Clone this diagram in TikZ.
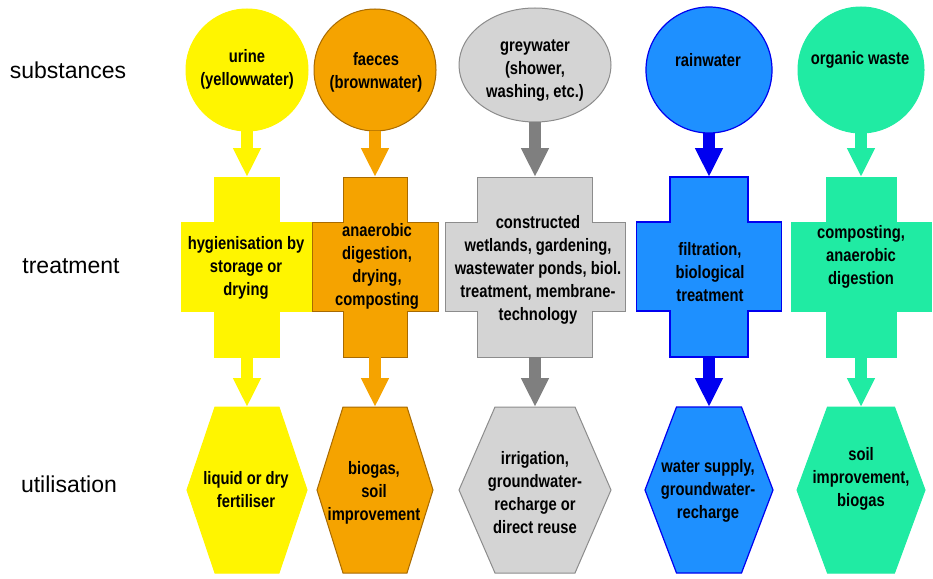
\documentclass[tikz,border=0pt]{standalone}
\usepackage{fontspec}
\setmainfont{Liberation Sans}
\newfontfamily\boxfont[FakeStretch=0.82]{Liberation Sans}
\usetikzlibrary{arrows.meta,shapes.geometric}

\definecolor{yel}{HTML}{FFF500}
\definecolor{ora}{HTML}{F5A300}
\definecolor{oraD}{HTML}{A86A00}
\definecolor{gry}{HTML}{D4D4D4}
\definecolor{gryD}{HTML}{8C8C8C}
\definecolor{gryA}{HTML}{7F7F7F}
\definecolor{blu}{HTML}{1E90FF}
\definecolor{bluD}{HTML}{0000F0}
\definecolor{grn}{HTML}{20EBA3}

\newcommand\crossshape[5]{% name, x, half vertical-bar width, half horizontal-bar width, style
  \node[frame, minimum width=2*#4pt, minimum height=180pt] (#1) at (#2,267) {};
  \path[#5] ({#2-#3},177) -- ({#2+#3},177) -- ({#2+#3},222) -- ({#2+#4},222)
    -- ({#2+#4},311) -- ({#2+#3},311) -- ({#2+#3},357) -- ({#2-#3},357)
    -- ({#2-#3},311) -- ({#2-#4},311) -- ({#2-#4},222) -- ({#2-#3},222) -- cycle;}
\newcommand\hexshape[5]{% name, x, half top edge, half width, style
  \node[frame, minimum width=2*#4pt, minimum height=166pt] (#1) at (#2,490) {};
  \path[#5] ({#2-#3},407) -- ({#2+#3},407) -- ({#2+#4},490) -- ({#2+#3},573)
    -- ({#2-#3},573) -- ({#2-#4},490) -- cycle;}

\begin{document}
\begin{tikzpicture}[x=1pt,y=-1pt,
  frame/.style={rectangle, inner sep=0, outer sep=0, draw=none},
  txt/.style={font=\boxfont\bfseries\fontsize{18}{23}\selectfont, align=center, inner sep=0, text=black},
  rowlabel/.style={font=\fontsize{23}{26}\selectfont, inner sep=0, anchor=base},
  conn/.style={line width=12pt, -{Triangle[width=26pt,length=29pt]}},
  ystyle/.style={fill=yel, draw=yel, line width=1pt},
  ostyle/.style={fill=ora, draw=oraD, line width=1pt},
  gstyle/.style={fill=gry, draw=gryD, line width=1pt},
  bstyle/.style={fill=blu, draw=bluD, line width=1.2pt},
  grstyle/.style={fill=grn, draw=grn, line width=1pt},
  subst/.style={circle, inner sep=0, outer sep=0}
]
\useasboundingbox[fill=white] (0,0) rectangle (933,578);

% row labels
\node[rowlabel] (rsub) at (68,78) {substances};
\node[rowlabel] (rtre) at (71,273) {treatment};
\node[rowlabel] (ruti) at (69,492) {utilisation};

% substances
\node[subst, ystyle, minimum size=122pt] (s1) at (247,70) {};
\node[subst, ostyle, minimum size=122pt] (s2) at (375,70) {};
\node[ellipse, inner sep=0, outer sep=0, gstyle, minimum width=152pt, minimum height=114pt] (s3) at (535,65) {};
\node[subst, bstyle, minimum size=126pt] (s4) at (709,70) {};
\node[subst, grstyle, minimum size=126pt] (s5) at (861,70) {};

% treatment crosses
\crossshape{t1}{247}{32.5}{66}{ystyle}
\crossshape{t2}{375}{32}{63}{ostyle}
\crossshape{t3}{535}{57.5}{90}{gstyle}
\crossshape{t4}{709}{39}{72.5}{bstyle}
\crossshape{t5}{861}{35}{70}{grstyle}

% utilisation hexagons
\hexshape{h1}{247}{32}{60}{ystyle}
\hexshape{h2}{375}{32}{58}{ostyle}
\hexshape{h3}{535}{40}{76}{gstyle}
\hexshape{h4}{709}{32.5}{64}{bstyle}
\hexshape{h5}{861}{33.5}{64}{grstyle}

% texts
\node[txt] (s1l) at (247,69) {urine\\(yellowwater)};
\node[txt] (s2l) at (376,72) {faeces\\(brownwater)};
\node[txt] (s3l) at (535,71) {greywater\\(shower,\\washing, etc.)};
\node[txt] (s4l) at (708,60) {rainwater};
\node[txt] (s5l) at (860,60) {organic waste};

\node[txt] (t1l) at (246,268) {hygienisation by\\storage or\\drying};
\node[txt] (t2l) at (377,266) {anaerobic\\digestion,\\drying,\\composting};
\node[txt] (t3l) at (538,270) {constructed\\wetlands, gardening,\\wastewater ponds, biol.\\treatment, membrane-\\technology};
\node[txt] (t4l) at (710,272) {filtration,\\biological\\treatment};
\node[txt] (t5l) at (861,257) {composting,\\anaerobic\\digestion};

\node[txt] (h1l) at (246,490) {liquid or dry\\fertiliser};
\node[txt] (h2l) at (374,493) {biogas,\\soil\\improvement};
\node[txt] (h3l) at (535,493) {irrigation,\\groundwater-\\recharge or\\direct reuse};
\node[txt] (h4l) at (708,491) {water supply,\\groundwater-\\recharge};
\node[txt] (h5l) at (861,479) {soil\\improvement,\\biogas};

% connectors
\draw[conn, draw=yel, fill=yel] (s1) -- (t1);
\draw[conn, draw=yel, fill=yel] (t1) -- (h1);
\draw[conn, draw=ora, fill=ora] (s2) -- (t2);
\draw[conn, draw=ora, fill=ora] (t2) -- (h2);
\draw[conn, draw=gryA, fill=gryA] (s3) -- (t3);
\draw[conn, draw=gryA, fill=gryA] (t3) -- (h3);
\draw[conn, draw=bluD, fill=bluD] (s4) -- (t4);
\draw[conn, draw=bluD, fill=bluD] (t4) -- (h4);
\draw[conn, draw=grn, fill=grn] (s5) -- (t5);
\draw[conn, draw=grn, fill=grn] (t5) -- (h5);
\end{tikzpicture}
\end{document}
